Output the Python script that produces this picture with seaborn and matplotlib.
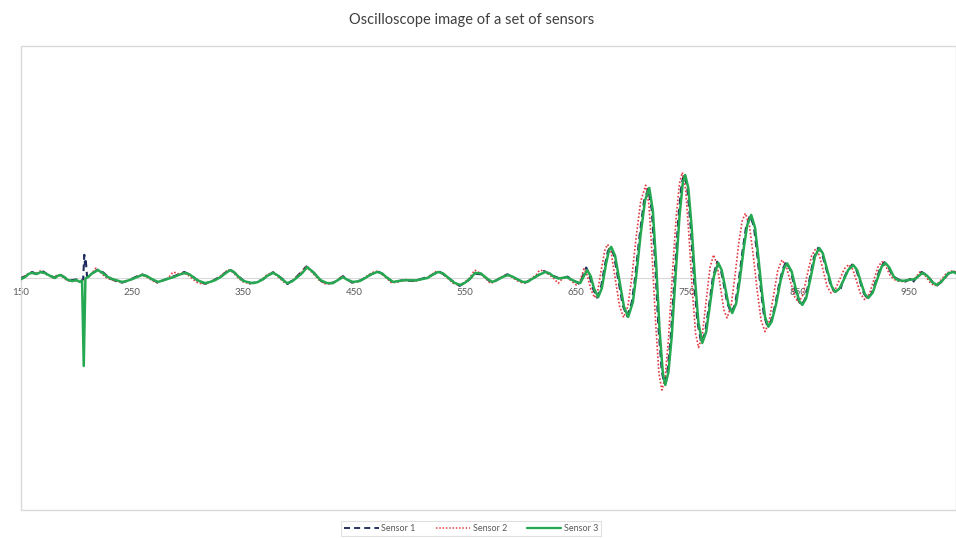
import numpy as np
import pandas as pd
import matplotlib
matplotlib.use("Agg")
import matplotlib.pyplot as plt
from matplotlib.lines import Line2D
from matplotlib.patches import Rectangle
import seaborn as sns

# ---- sensor traces (time in samples, signal in volts) ----
t3 = [150, 153.6, 157, 160, 164, 168, 172, 176, 180.6, 183,
      185, 189, 192, 196, 200, 203, 205, 206.5, 208, 210.4,
      214, 219.4, 224, 228, 232, 236, 241, 245, 250, 255,
      259, 263, 268, 273.4, 278, 283, 288, 293, 297.7, 302,
      306, 310, 315.8, 320.3, 325, 330, 334, 338.3, 342, 346,
      350, 353.6, 359, 363, 368, 372, 377, 381, 385, 389.6,
      394, 398, 403, 407.7, 412, 416, 420, 425.7, 431, 435,
      440, 444, 449, 455, 460, 465, 470.7, 475, 480, 485.1,
      490, 496, 501, 506, 511, 516, 521, 525.7, 530, 535,
      540, 545.5, 550, 555, 559, 564, 569, 574.3, 579, 584,
      588.7, 593, 598, 602, 605.9, 610, 615, 622.1, 626, 630,
      634, 637.4, 641, 645, 649, 653.6, 656.5, 659.9, 663, 666,
      669.8, 673, 677, 679.5, 681.5, 685, 689, 693, 696.8, 701,
      704, 708, 712, 715.8, 719, 722, 725, 728, 730.2, 733,
      736, 740, 743, 746, 748.2, 751, 754, 757, 760, 763.5,
      767, 771, 774, 777.9, 781, 784, 787, 790.5, 794, 797,
      801, 804, 807.6, 811, 814, 817, 820, 823, 826, 830,
      834, 837, 840, 844, 848, 851, 853.6, 857, 861, 865,
      868.9, 872, 876, 880, 883.3, 887, 891, 895, 899.5, 903,
      907, 910, 913, 917, 921, 925, 928.4, 932, 936, 940,
      945, 950, 955, 961.7, 966, 971, 975.2, 980, 985, 989.6,
      992]
v3 = [-0.005, 0.004, 0.018, 0.022, 0.017, 0.026, 0.020, 0.010, 0.000, 0.009,
      0.013, 0.004, -0.008, -0.013, -0.009, -0.017, -0.012, -0.379, -0.002, 0.004,
      0.020, 0.034, 0.020, 0.005, -0.004, -0.010, -0.017, -0.013, -0.005, 0.005,
      0.013, 0.009, -0.005, -0.017, -0.010, -0.002, 0.005, 0.015, 0.022, 0.015,
      0.000, -0.012, -0.022, -0.017, -0.009, 0.005, 0.020, 0.034, 0.025, 0.005,
      -0.012, -0.017, -0.022, -0.018, -0.005, 0.010, 0.022, 0.012, -0.005, -0.022,
      -0.015, 0.000, 0.020, 0.047, 0.030, 0.010, -0.010, -0.022, -0.022, -0.010,
      0.004, -0.008, -0.017, -0.013, 0.000, 0.015, 0.026, 0.020, 0.000, -0.017,
      -0.013, -0.009, -0.010, -0.010, -0.005, 0.000, 0.015, 0.026, 0.020, 0.000,
      -0.020, -0.030, -0.020, 0.000, 0.022, 0.020, 0.000, -0.017, -0.008, 0.005,
      0.013, 0.005, -0.008, -0.017, -0.017, -0.005, 0.010, 0.026, 0.020, 0.005,
      -0.002, 0.000, 0.004, -0.005, -0.015, -0.022, 0.005, 0.034, 0.008, -0.045,
      -0.082, -0.045, 0.065, 0.119, 0.134, 0.096, -0.014, -0.124, -0.168, -0.104,
      0.007, 0.188, 0.335, 0.388, 0.290, 0.060, -0.220, -0.410, -0.461, -0.407,
      -0.253, 0.050, 0.267, 0.412, 0.444, 0.386, 0.216, -0.008, -0.190, -0.280,
      -0.233, -0.097, 0.008, 0.065, 0.034, -0.037, -0.112, -0.151, -0.110, -0.018,
      0.133, 0.228, 0.272, 0.217, 0.091, -0.051, -0.167, -0.210, -0.188, -0.112,
      -0.012, 0.041, 0.063, 0.028, -0.052, -0.100, -0.116, -0.088, -0.001, 0.093,
      0.129, 0.107, 0.036, -0.036, -0.060, -0.046, -0.007, 0.035, 0.056, 0.034,
      -0.028, -0.070, -0.086, -0.063, -0.006, 0.048, 0.065, 0.045, 0.005, -0.010,
      -0.012, -0.008, -0.005, 0.022, 0.010, -0.020, -0.030, -0.010, 0.020, 0.026,
      0.020]

t1 = [150, 155, 160, 165, 170, 175, 180, 185, 190, 195,
      200, 204, 206, 207, 207.6, 208.2, 209.5, 212, 219, 224,
      230, 236, 241, 247, 253, 259, 265, 273, 280, 288,
      297, 304, 310, 316, 322, 330, 338, 344, 350, 355,
      360, 367, 377, 385, 390, 398, 407, 414, 420, 426,
      432, 440, 448, 456, 464, 471, 478, 485, 493, 503,
      512, 520, 526, 534, 540, 545, 552, 559, 565, 574,
      582, 588, 596, 604, 612, 621, 628, 636, 642, 648,
      653, 656, 659, 662, 665, 668.8, 672, 676, 678.5, 680.5,
      684, 688, 692, 695.8, 700, 703, 707, 711, 714.8, 718,
      721, 724, 727, 729.2, 732, 735, 739, 742, 745, 747.2,
      750, 753, 756, 759, 762.5, 766, 770, 773, 776.9, 780,
      783, 786, 789.5, 793, 796, 800, 803, 806.6, 810, 813,
      816, 819, 822, 825, 829, 833, 836, 839, 843, 847,
      850, 852.6, 856, 860, 864, 867.9, 871, 875, 879, 882.3,
      885, 888, 890, 894, 898.5, 902, 906, 909, 912, 916,
      920, 924, 927.4, 931, 935, 940, 946, 951, 953, 956,
      961, 966, 971, 975, 980, 985, 990, 992]
v1 = [0.000, 0.010, 0.026, 0.015, 0.028, 0.012, 0.002, 0.016, 0.000, -0.010,
      -0.006, -0.015, -0.004, 0.100, 0.060, 0.085, 0.005, 0.012, 0.036, 0.024,
      -0.002, -0.014, -0.020, -0.010, 0.004, 0.016, 0.004, -0.020, -0.006, 0.008,
      0.026, 0.010, -0.016, -0.025, -0.014, 0.008, 0.038, 0.016, -0.010, -0.024,
      -0.020, -0.008, 0.025, -0.002, -0.026, 0.004, 0.050, 0.022, -0.012, -0.026,
      -0.018, 0.008, -0.020, -0.010, 0.012, 0.030, 0.010, -0.020, -0.010, -0.013,
      -0.002, 0.012, 0.030, 0.004, -0.018, -0.034, -0.014, 0.018, 0.016, -0.022,
      0.002, 0.016, -0.004, -0.020, 0.000, 0.030, 0.012, -0.004, 0.006, -0.012,
      -0.026, 0.010, 0.045, 0.010, -0.045, -0.085, -0.048, 0.060, 0.115, 0.132,
      0.098, -0.010, -0.120, -0.165, -0.106, 0.000, 0.180, 0.330, 0.385, 0.295,
      0.070, -0.210, -0.400, -0.455, -0.410, -0.262, 0.040, 0.260, 0.410, 0.447,
      0.390, 0.225, 0.000, -0.185, -0.278, -0.238, -0.105, 0.000, 0.070, 0.040,
      -0.030, -0.108, -0.150, -0.115, -0.025, 0.125, 0.222, 0.270, 0.222, 0.100,
      -0.040, -0.160, -0.206, -0.192, -0.120, -0.020, 0.038, 0.070, 0.032, -0.045,
      -0.095, -0.118, -0.092, -0.008, 0.088, 0.130, 0.110, 0.042, -0.030, -0.058,
      -0.055, -0.050, -0.012, 0.030, 0.058, 0.038, -0.022, -0.066, -0.088, -0.066,
      -0.010, 0.045, 0.068, 0.048, 0.008, -0.006, -0.016, -0.004, -0.020, 0.000,
      0.026, 0.012, -0.018, -0.032, -0.012, 0.018, 0.028, 0.022]

t2 = [150, 155, 159, 163, 167, 171, 174, 179, 183, 188,
      191, 195, 200, 204, 207, 210, 213, 217.5, 222, 226,
      231, 235, 240, 245, 250, 254, 258, 262, 267, 272,
      277, 282, 287, 292, 296, 300, 304, 309.5, 314, 319,
      324, 329, 333, 337, 341, 345, 349, 352, 357.5, 362,
      367, 371, 376, 380, 384, 388.5, 393, 397, 402, 406.5,
      411, 415, 419, 424.5, 430, 434, 439, 443, 448, 454,
      459, 464, 469.5, 474, 479, 484, 489, 495, 500, 505,
      510, 515, 520, 524.5, 529, 534, 539, 544.5, 549, 554,
      558.5, 563, 568, 573, 578, 583, 587.5, 592, 597, 601,
      605, 609, 614, 617, 621, 625, 629, 633.8, 637, 641,
      645, 650, 653, 657, 660, 663, 666.5, 669.5, 673, 676,
      678.3, 681.5, 685, 689, 692.7, 696.5, 700, 704, 708, 712.5,
      715.5, 718.5, 721.5, 724.5, 727.2, 730, 733, 737, 740, 743,
      745.5, 748.5, 751.5, 754.5, 757.5, 760.2, 763.5, 767, 770.5, 773.7,
      777, 780, 783, 785.8, 789.5, 793, 796.5, 799.5, 802.3, 806,
      809.5, 813, 816.5, 820, 823.5, 827.5, 831.5, 835.3, 839, 843,
      847, 850.3, 854, 858, 862, 865.5, 869, 872.5, 876, 879.5,
      883.5, 887.5, 891.5, 895.5, 899, 902.5, 906, 910, 914, 918,
      922, 925.4, 929, 933, 938, 944, 950, 954, 959.5, 964,
      969, 973, 978, 983, 987.5, 992]
v2 = [-0.004, 0.015, 0.024, 0.016, 0.030, 0.020, 0.013, 0.000, 0.014, 0.004,
      -0.010, -0.015, -0.012, -0.018, -0.004, 0.000, 0.015, 0.043, 0.022, 0.004,
      -0.008, -0.012, -0.020, -0.014, -0.006, 0.006, 0.012, 0.008, -0.008, -0.020,
      -0.012, -0.004, 0.026, 0.018, 0.022, 0.014, -0.002, -0.022, -0.025, -0.020,
      -0.010, 0.006, 0.022, 0.036, 0.024, 0.004, -0.014, -0.020, -0.024, -0.020,
      -0.006, 0.012, 0.024, 0.012, -0.006, -0.025, -0.016, 0.000, 0.022, 0.048,
      0.030, 0.010, -0.012, -0.026, -0.024, -0.012, 0.006, -0.006, -0.020, -0.016,
      0.000, 0.017, 0.030, 0.020, 0.000, -0.022, -0.016, -0.012, -0.010, -0.014,
      -0.006, 0.000, 0.016, 0.030, 0.020, 0.000, -0.022, -0.032, -0.020, 0.000,
      0.034, 0.022, 0.000, -0.024, -0.010, 0.006, 0.014, 0.004, -0.012, -0.020,
      -0.020, -0.004, 0.014, 0.034, 0.030, 0.016, 0.002, -0.023, -0.005, 0.004,
      -0.010, -0.030, -0.020, 0.040, 0.011, -0.047, -0.085, -0.052, 0.048, 0.124,
      0.145, 0.109, 0.002, -0.121, -0.170, -0.122, 0.001, 0.178, 0.329, 0.400,
      0.316, 0.082, -0.192, -0.412, -0.483, -0.431, -0.267, 0.047, 0.263, 0.408,
      0.455, 0.383, 0.183, -0.051, -0.239, -0.300, -0.246, -0.100, 0.046, 0.100,
      0.054, -0.044, -0.138, -0.172, -0.120, 0.011, 0.155, 0.247, 0.279, 0.225,
      0.095, -0.055, -0.183, -0.231, -0.192, -0.081, 0.033, 0.078, 0.051, -0.016,
      -0.084, -0.105, -0.074, 0.014, 0.096, 0.125, 0.097, 0.030, -0.037, -0.065,
      -0.047, -0.004, 0.040, 0.058, 0.037, -0.014, -0.068, -0.095, -0.069, -0.008,
      0.051, 0.070, 0.048, 0.008, -0.012, -0.015, -0.006, -0.008, 0.026, 0.012,
      -0.022, -0.034, -0.012, 0.018, 0.030, 0.024]

sensor_names = ["Sensor 1", "Sensor 2", "Sensor 3"]
x_ticks = [150, 250, 350, 450, 550, 650, 750, 850, 950]
title = "Oscilloscope image of a set of sensors"

# ---- long-form table ----
df = pd.concat([
    pd.DataFrame({"time": t1, "signal": v1, "sensor": sensor_names[0]}),
    pd.DataFrame({"time": t2, "signal": v2, "sensor": sensor_names[1]}),
    pd.DataFrame({"time": t3, "signal": v3, "sensor": sensor_names[2]}),
], ignore_index=True)

sns.set_theme(style="white")
plt.rcParams["font.family"] = ["Lato", "DejaVu Sans"]

palette = {"Sensor 1": "#1f2a5c", "Sensor 2": "#e23a40", "Sensor 3": "#25a852"}
dashes = {"Sensor 1": (3.2, 2.2), "Sensor 2": (1.0, 1.2), "Sensor 3": ""}
widths = {"Sensor 1": 1.5, "Sensor 2": 1.2, "Sensor 3": 1.8}

fig = plt.figure(figsize=(9.56, 5.38), dpi=100)
ax = fig.add_axes([21 / 956, 1 - 510 / 538, 1 - 21 / 956, (510 - 46) / 538])

sns.lineplot(data=df, x="time", y="signal", hue="sensor", style="sensor",
             palette=palette, dashes=dashes, estimator=None, sort=False,
             legend=False, ax=ax, zorder=3)
for line, name in zip(ax.lines, sensor_names):
    line.set_linewidth(widths[name])

ax.set_xlim(150, 992)
ax.set_ylim(-1, 1)
ax.set_xlabel("")
ax.set_ylabel("")
ax.set_yticks([])

# the horizontal axis runs through zero; the plot area gets its own frame
for side in ["left", "right", "top"]:
    ax.spines[side].set_visible(False)
ax.spines["bottom"].set_position(("data", 0))
ax.spines["bottom"].set_color("#d9d9d9")
ax.spines["bottom"].set_linewidth(0.8)
ax.spines["bottom"].set_zorder(1)
ax.set_xticks(x_ticks)
ax.set_xticklabels([str(v) for v in x_ticks])
ax.tick_params(axis="x", length=0, pad=7, labelsize=7, labelcolor="#595959")
ax.add_patch(Rectangle((0, 0), 1, 1, transform=ax.transAxes, fill=False,
                       edgecolor="#d9d9d9", linewidth=1.0, clip_on=False,
                       zorder=1))

fig.text(0.493, 1 - 20 / 538, title, ha="center", va="center",
         fontsize=10.5, color="#404040")

handles = []
for n in sensor_names:
    h = Line2D([], [], color=palette[n], lw=widths[n] * 0.9,
               linestyle="--" if dashes[n] else "-")
    if dashes[n]:
        h.set_dashes(dashes[n])
    handles.append(h)
leg = fig.legend(handles, sensor_names, loc="upper center",
                 bbox_to_anchor=(0.493, 1 - 521 / 538), ncol=3, frameon=True,
                 fancybox=False, edgecolor="#d9d9d9", fontsize=6.5,
                 handlelength=3.8, handletextpad=0.3, columnspacing=2.2,
                 borderpad=0.35, borderaxespad=0, labelcolor="#595959")
leg.get_frame().set_linewidth(0.8)

fig.savefig("out.png", dpi=100, facecolor="white")
